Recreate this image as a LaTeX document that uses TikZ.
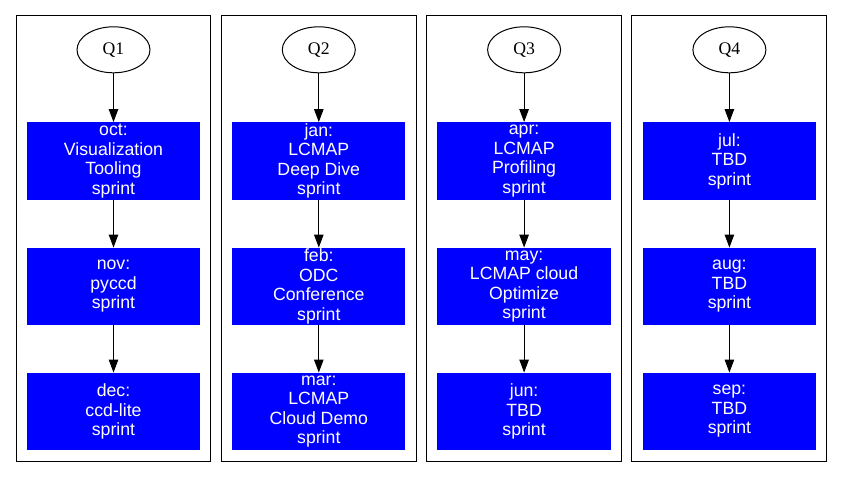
\documentclass[tikz,border=0pt]{standalone}
\usepackage{fontspec}
\setmainfont{Liberation Serif}
\setsansfont{Liberation Sans}
\usetikzlibrary{shapes.geometric,arrows.meta}
\begin{document}
\begin{tikzpicture}[x=1pt,y=-1pt,
  cluster/.style={draw=black,line width=1pt},
  quarter/.style={draw=black,line width=1pt,ellipse,minimum width=73pt,minimum height=46pt,inner sep=0pt,font=\rmfamily\fontsize{17.7}{19.5}\selectfont},
  sprintbox/.style={fill={rgb,255:red,0;green,0;blue,255},text=white,minimum width=173.3pt,minimum height=77.5pt,inner sep=0pt,align=center,font=\sffamily\fontsize{17.7}{19.5}\selectfont},
  arr/.style={draw=black,line width=1pt,-{Triangle[length=13pt,width=9.5pt]}}]
\useasboundingbox (0,0) rectangle (843,477);
\fill[white] (0,0) rectangle (843,477);
% clusters
\draw[cluster] (16,15.3) rectangle (210.7,461);
\draw[cluster] (221.3,15.3) rectangle (416,461);
\draw[cluster] (426.6,15.3) rectangle (621.3,461);
\draw[cluster] (631.9,15.3) rectangle (826.6,461);
% column 1
\node[quarter] (q1) at (113.5,49.8) {Q1};
\node[sprintbox] (oct) at (113.5,161) {oct:\\Visualization\\Tooling\\sprint};
\node[sprintbox] (nov) at (113.5,286.5) {nov:\\pyccd\\sprint};
\node[sprintbox] (dec) at (113.5,411.5) {dec:\\ccd-lite\\sprint};
% column 2
\node[quarter] (q2) at (318.8,49.8) {Q2};
\node[sprintbox] (jan) at (318.8,161) {jan:\\LCMAP\\Deep Dive\\sprint};
\node[sprintbox] (feb) at (318.8,286.5) {feb:\\ODC\\Conference\\sprint};
\node[sprintbox] (mar) at (318.8,411.5) {mar:\\LCMAP\\Cloud Demo\\sprint};
% column 3
\node[quarter] (q3) at (524.1,49.8) {Q3};
\node[sprintbox] (apr) at (524.1,161) {apr:\\LCMAP\\Profiling\\sprint};
\node[sprintbox] (may) at (524.1,286.5) {may:\\LCMAP cloud\\Optimize\\sprint};
\node[sprintbox] (jun) at (524.1,411.5) {jun:\\TBD\\sprint};
% column 4
\node[quarter] (q4) at (729.4,49.8) {Q4};
\node[sprintbox] (jul) at (729.4,161) {jul:\\TBD\\sprint};
\node[sprintbox] (aug) at (729.4,286.5) {aug:\\TBD\\sprint};
\node[sprintbox] (sep) at (729.4,411.5) {sep:\\TBD\\sprint};
% connectors
\draw[arr] (q1) -- (oct);
\draw[arr] (oct) -- (nov);
\draw[arr] (nov) -- (dec);
\draw[arr] (q2) -- (jan);
\draw[arr] (jan) -- (feb);
\draw[arr] (feb) -- (mar);
\draw[arr] (q3) -- (apr);
\draw[arr] (apr) -- (may);
\draw[arr] (may) -- (jun);
\draw[arr] (q4) -- (jul);
\draw[arr] (jul) -- (aug);
\draw[arr] (aug) -- (sep);
\end{tikzpicture}
\end{document}
